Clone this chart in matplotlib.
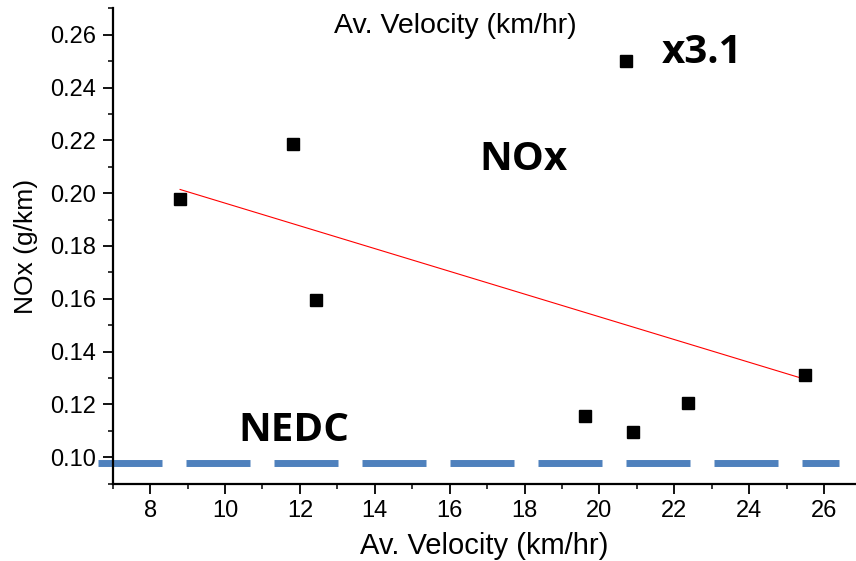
import numpy as np
import matplotlib
matplotlib.use("Agg")
import matplotlib.pyplot as plt
from matplotlib.ticker import MultipleLocator, FormatStrFormatter

# Data
velocity = [8.80, 11.81, 12.43, 19.62, 20.71, 20.89, 22.36, 25.48]
nox = [0.1977, 0.2185, 0.1594, 0.1158, 0.2500, 0.1095, 0.1206, 0.1310]
nedc_limit = 0.098
nedc_x = [6.6, 26.39]

plt.rcParams["font.family"] = ["Liberation Sans", "DejaVu Sans"]

W, H = 856, 561
fig = plt.figure(figsize=(W / 100, H / 100), dpi=100)
ax = fig.add_axes([112.7 / W, 1 - 483.7 / H, 1 - 112.7 / W, (483.7 - 8.3) / H])

bold = ["Open Sans", "DejaVu Sans"]

# scatter
ax.plot(velocity, nox, "s", color="black", ms=8.6, zorder=4, clip_on=False)

# linear fit line
coef = np.polyfit(velocity, nox, 1)
fx = np.array([min(velocity), max(velocity)])
ax.plot(fx, np.polyval(coef, fx), color="red", lw=0.8, zorder=3)

# NEDC dashed line
lw = 5.0
dash_len = 64 * 0.72 / lw
gap_len = 24 * 0.72 / lw
ax.plot(nedc_x, [nedc_limit, nedc_limit], color="#4f81bd", lw=lw,
        dashes=(dash_len, gap_len), solid_capstyle="butt", dash_capstyle="butt",
        clip_on=False, zorder=2)

ax.set_xlim(7.0, 26.85)
ax.set_ylim(0.09, 0.27)

ax.xaxis.set_major_locator(MultipleLocator(2))
ax.xaxis.set_minor_locator(MultipleLocator(1))
ax.yaxis.set_major_locator(MultipleLocator(0.02))
ax.yaxis.set_minor_locator(MultipleLocator(0.01))
ax.yaxis.set_major_formatter(FormatStrFormatter("%.2f"))

for s in ["top", "right"]:
    ax.spines[s].set_visible(False)
for s in ["left", "bottom"]:
    ax.spines[s].set_linewidth(1.6)

ax.tick_params(axis="both", which="major", direction="out", length=7, width=1.3,
               labelsize=17, pad=5)
ax.tick_params(axis="both", which="minor", direction="out", length=3.5, width=1.1)

ax.set_xlabel("Av. Velocity (km/hr)", fontsize=21, labelpad=7)
ax.set_ylabel("NOx (g/km)", fontsize=19, labelpad=9)

# annotations (figure pixel coords)
def px(x, y):
    return x / W, 1 - y / H

fig.text(*px(455.5, 32.7), "Av. Velocity (km/hr)", fontsize=20.5,
         ha="center", va="baseline")
fig.text(*px(523, 170), "NOx", fontsize=29, family=bold, fontweight="bold",
         ha="center", va="baseline")
fig.text(*px(702, 63), "x3.1", fontsize=29, family=bold, fontweight="bold",
         ha="center", va="baseline")
fig.text(*px(294, 440.7), "NEDC", fontsize=29, family=bold, fontweight="bold",
         ha="center", va="baseline")

fig.savefig("out.png", dpi=100)
